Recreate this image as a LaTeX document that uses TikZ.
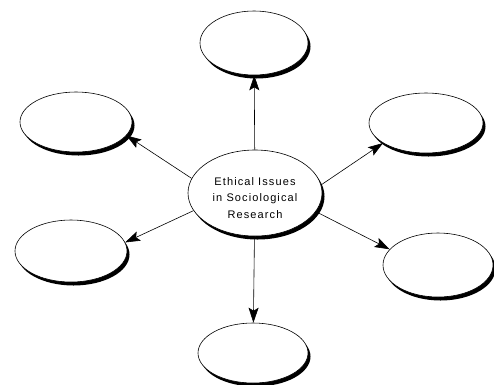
\documentclass[tikz,border=0pt]{standalone}
\usepackage{fontspec}
\setmainfont{Liberation Sans}
\newfontfamily\topicfont[LetterSpace=10]{Liberation Sans}
\usetikzlibrary{shapes.geometric,shadows,arrows.meta}

\tikzset{
	bubble/.style={ellipse, draw, line width=0.6pt, fill=white, inner sep=0pt,
		minimum width=110pt, minimum height=62pt,
		drop shadow={shadow xshift=2.5pt, shadow yshift=-3.5pt, fill=black, opacity=1}},
	topic/.style={font=\topicfont\fontsize{11}{16.5}\selectfont, align=center, yshift=-5pt, inner sep=0pt},
	spoke/.style={-{Stealth[length=15pt,width=10pt,inset=3pt]}, line width=0.6pt}
}

\begin{document}
\begin{tikzpicture}[x=1pt,y=-1pt]
		\useasboundingbox (0,0) rectangle (494,384);
		
		\node[bubble, minimum width=134pt, minimum height=86pt,
			label={[topic]center:Ethical Issues\\in Sociological\\Research}] (v0) at (255,193) {};
		
		\node[bubble, minimum width=108pt, minimum height=64pt] (v1) at (254, 43) {};
		\node[bubble, minimum width=112pt, minimum height=60pt] (v2) at ( 76,122) {};
		\node[bubble, minimum width=114pt, minimum height=60pt] (v3) at (426,123) {};
		\node[bubble, minimum width=112pt, minimum height=62pt] (v4) at ( 71,251) {};
		\node[bubble, minimum width=110pt, minimum height=64pt] (v5) at (438,265) {};
		\node[bubble, minimum width=110pt, minimum height=60pt] (v6) at (253,353) {};
		
		\draw[spoke] (v0) to (v1);
		\draw[spoke] (v0.167) to (v2.-15);
		\draw[spoke] (v0.7) to (v3.-155);
		\draw[spoke] (v0.-164) to (v4.9);
		\draw[spoke] (v0.-17) to (v5.162);
		\draw[spoke] (v0) to (v6);
		
	\end{tikzpicture}
\end{document}
